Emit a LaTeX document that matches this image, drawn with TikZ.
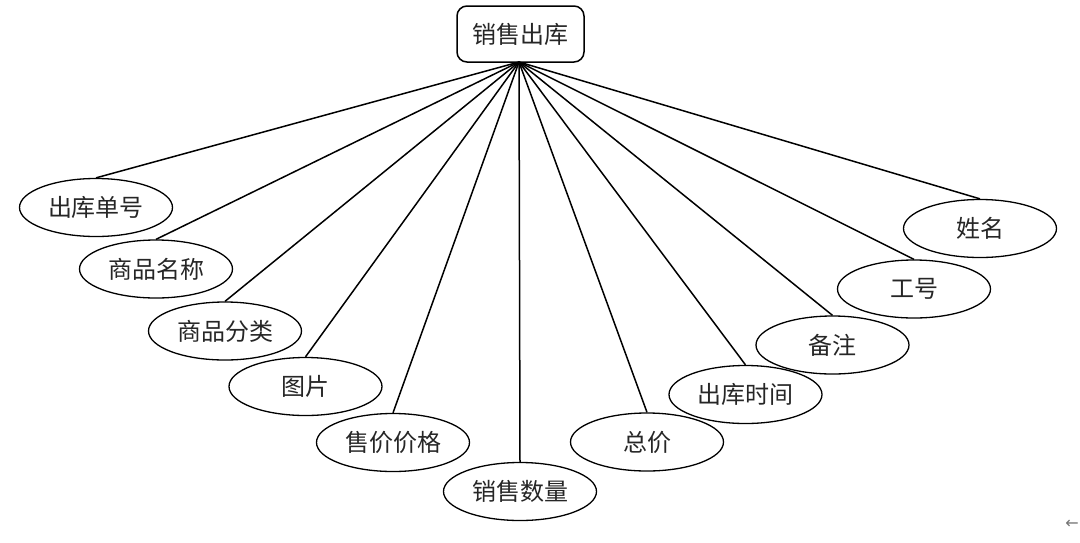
\documentclass[tikz,border=0pt]{standalone}
\usepackage{fontspec}
\setmainfont{Noto Sans CJK SC}
\newfontfamily\symfont{DejaVu Sans}
\usetikzlibrary{shapes.geometric}
\tikzset{
  attr/.style={draw=black, line width=1.3pt, ellipse, minimum width=153pt, minimum height=58pt, inner sep=0pt, font=\fontsize{24}{26}\selectfont, text=black!85},
  entity/.style={draw=black, line width=1.5pt, rounded corners=10pt, minimum width=127pt, minimum height=56pt, inner sep=0pt, font=\fontsize{24}{26}\selectfont, text=black!85},
  link/.style={line width=1.5pt, draw=black}
}
\begin{document}
\begin{tikzpicture}[x=1pt, y=-1pt]
\useasboundingbox (0,0) rectangle (1080,542);
\node[entity] (e) at (520.5,34) {销售出库};
\node[attr] (a1) at (96,207.5) {出库单号};
\node[attr] (a2) at (156,269) {商品名称};
\node[attr] (a3) at (225,331) {商品分类};
\node[attr] (a4) at (305.5,386.5) {图片};
\node[attr] (a5) at (393,442.5) {售价价格};
\node[attr] (a6) at (520,491.5) {销售数量};
\node[attr] (a7) at (647,442) {总价};
\node[attr] (a8) at (745.5,394.5) {出库时间};
\node[attr] (a9) at (832.5,345) {备注};
\node[attr] (a10) at (914,289) {工号};
\node[attr] (a11) at (980,228.5) {姓名};
\coordinate (src) at (519,62);
\foreach \i in {1,...,11} {
  \draw[link] (src) -- (a\i.north);
}
\node[font=\symfont\fontsize{16}{16}\selectfont, text=black!55, inner sep=0pt] (arr) at (1072,524) {←};
\end{tikzpicture}
\end{document}
